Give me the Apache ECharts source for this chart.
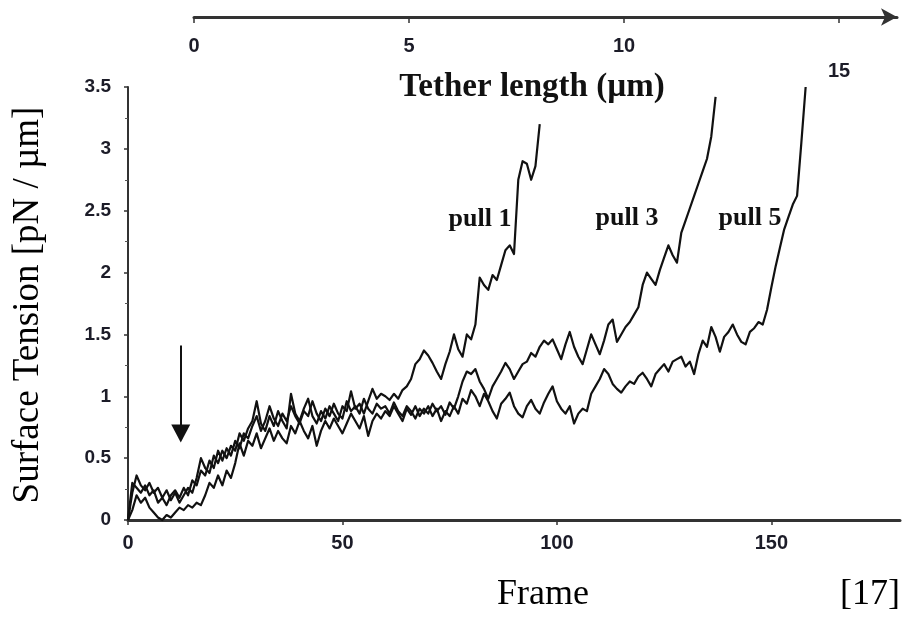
<!DOCTYPE html>
<html>
<head>
<meta charset="utf-8">
<script src="https://cdn.jsdelivr.net/npm/echarts@6/dist/echarts.min.js"></script>
<style>
  html, body { margin: 0; padding: 0; background: #fff; }
  #chart { width: 908px; height: 619px; }
</style>
</head>
<body>
<div id="chart"></div>
<script>
// Surface tension traces, one value per video frame (frame 0, 1, 2, ...)
const pull1 = [
  0.00,0.22,0.36,0.28,0.24,0.30,0.22,0.26,0.18,0.24,
  0.16,0.22,0.14,0.20,0.26,0.22,0.34,0.50,0.42,0.38,
  0.52,0.46,0.56,0.50,0.60,0.56,0.70,0.64,0.74,0.80,
  0.96,0.78,0.72,0.84,0.76,0.88,0.80,0.74,1.02,0.86,
  0.80,0.90,0.98,0.84,0.78,0.88,0.82,0.92,0.86,0.80,
  0.92,0.88,1.04,0.90,0.94,0.86,0.96,1.06,0.98,1.02,
  1.00,0.97,1.02,0.98,1.05,1.08,1.14,1.26,1.30,1.37,
  1.33,1.27,1.20,1.14,1.26,1.36,1.50,1.38,1.32,1.50,
  1.46,1.58,1.96,1.90,1.86,1.98,1.94,2.06,2.18,2.22,
  2.15,2.75,2.90,2.88,2.75,2.86,3.20
];
const pull3 = [
  0.00,0.08,0.20,0.14,0.18,0.10,0.06,0.02,0.00,0.04,
  0.02,0.06,0.10,0.08,0.12,0.10,0.14,0.12,0.20,0.30,
  0.26,0.36,0.28,0.40,0.34,0.46,0.62,0.52,0.64,0.60,
  0.70,0.58,0.66,0.74,0.64,0.72,0.66,0.62,0.76,0.70,
  0.80,0.72,0.66,0.76,0.60,0.72,0.80,0.74,0.82,0.76,
  0.70,0.78,0.86,0.80,0.74,0.84,0.68,0.80,0.86,0.82,
  0.88,0.84,0.92,0.86,0.80,0.90,0.85,0.92,0.84,0.90,
  0.86,0.94,0.88,0.92,0.85,0.95,0.90,1.00,1.12,1.20,
  1.18,1.22,1.12,1.06,0.98,1.08,1.14,1.20,1.27,1.22,
  1.14,1.20,1.26,1.28,1.35,1.32,1.40,1.45,1.42,1.46,
  1.38,1.30,1.42,1.52,1.40,1.32,1.26,1.38,1.50,1.42,
  1.34,1.45,1.58,1.62,1.44,1.50,1.56,1.60,1.66,1.72,
  1.90,2.00,1.95,1.90,2.02,2.12,2.22,2.14,2.08,2.32,
  2.42,2.52,2.62,2.72,2.82,2.92,3.10,3.42
];
const pull5 = [
  0.00,0.30,0.26,0.22,0.28,0.20,0.24,0.14,0.18,0.12,
  0.20,0.24,0.18,0.26,0.20,0.32,0.28,0.40,0.36,0.48,
  0.42,0.56,0.48,0.58,0.52,0.64,0.58,0.70,0.66,0.76,
  0.84,0.72,0.80,0.92,0.82,0.76,0.86,0.80,0.92,0.84,
  0.78,0.88,0.84,0.96,0.86,0.80,0.90,0.84,0.94,0.86,
  0.82,0.96,0.88,0.92,0.86,0.98,0.90,0.86,0.94,0.90,
  0.92,0.86,0.95,0.88,0.84,0.92,0.88,0.82,0.90,0.86,
  0.92,0.84,0.90,0.80,0.88,0.84,0.92,0.86,0.98,0.94,
  1.05,1.00,0.92,1.02,0.96,0.88,0.82,0.94,0.98,1.03,
  0.92,0.86,0.83,0.92,0.97,0.90,0.86,0.95,1.02,1.08,
  0.96,0.90,0.86,0.92,0.78,0.86,0.90,0.88,1.02,1.08,
  1.14,1.22,1.18,1.10,1.06,1.03,1.08,1.12,1.10,1.16,
  1.19,1.14,1.08,1.18,1.22,1.26,1.20,1.28,1.30,1.32,
  1.24,1.28,1.18,1.34,1.45,1.40,1.56,1.48,1.36,1.48,
  1.52,1.58,1.50,1.44,1.42,1.52,1.55,1.60,1.58,1.70,
  1.88,2.05,2.20,2.35,2.45,2.55,2.62,3.05,3.50
];
const seriesNames = ['pull 1', 'pull 3', 'pull 5'];

// Axis tick values
const frameTicks = [0, 50, 100, 150];
const tetherTicks = [0, 5, 10, 15];

// Arrow marking the start of the pull (frame, from, to)
const arrowFrame = 12.3;
const arrowFrom = 1.41;
const arrowTo = 0.70;

const INK = '#111';
const LABEL = '#1c1c28';
const numFont = "'Liberation Sans', Arial, sans-serif";
const serif = "'Liberation Serif', 'Times New Roman', serif";

const toPoints = arr => arr.map((v, i) => [i, v]);

const chart = echarts.init(document.getElementById('chart'), null, { renderer: 'canvas' });

const lineSeries = (name, arr) => ({
  name,
  type: 'line',
  xAxisIndex: 0,
  yAxisIndex: 0,
  data: toPoints(arr),
  showSymbol: false,
  symbol: 'none',
  clip: false,
  smooth: false,
  lineStyle: { color: INK, width: 2.2, join: 'round' },
  emphasis: { disabled: true },
  silent: true
});

const s5 = lineSeries(seriesNames[2], pull5);
s5.markLine = {
  silent: true,
  symbol: ['none', 'triangle'],
  symbolSize: [19, 18],
  label: { show: false },
  lineStyle: { color: INK, width: 2, type: 'solid' },
  emphasis: { disabled: true },
  data: [[{ coord: [arrowFrame, arrowFrom] }, { coord: [arrowFrame, arrowTo] }]]
};

const option = {
  backgroundColor: '#fff',
  animation: false,
  grid: [
    { left: 128, right: 8, top: 87, bottom: 99, outerBoundsMode: 'none', containLabel: false },
    { left: 194, right: 11, top: 16, height: 1, outerBoundsMode: 'none', containLabel: false }
  ],
  xAxis: [
    {
      type: 'value', gridIndex: 0, min: 0, max: 180, interval: 50,
      axisLine: { show: true, lineStyle: { color: '#333', width: 3 } },
      axisTick: { show: true, length: 5, lineStyle: { color: '#333', width: 1.5 }, customValues: frameTicks },
      axisLabel: {
        show: true, margin: 13, color: LABEL, fontFamily: numFont, fontWeight: 'bold', fontSize: 20,
        customValues: frameTicks
      },
      splitLine: { show: false }
    },
    {
      type: 'value', gridIndex: 1, min: 0, max: 703 / 43, position: 'bottom',
      axisLine: {
        show: true, symbol: ['none', 'arrow'], symbolSize: [13, 16],
        lineStyle: { color: '#333', width: 3 }
      },
      axisTick: { show: true, length: 6, lineStyle: { color: '#333', width: 1.5 }, customValues: tetherTicks },
      axisLabel: {
        show: true, margin: 19, color: LABEL, fontFamily: numFont, fontWeight: 'bold', fontSize: 20,
        customValues: tetherTicks,
        formatter: v => (v === 15 ? '{low|15}' : String(v)),
        rich: { low: { padding: [25, 0, 0, 0], fontFamily: numFont, fontWeight: 'bold', fontSize: 20, color: LABEL } }
      },
      splitLine: { show: false }
    }
  ],
  yAxis: [
    {
      type: 'value', gridIndex: 0, min: 0, max: 3.5, interval: 0.5,
      axisLine: { show: true, lineStyle: { color: '#333', width: 2 } },
      axisTick: { show: true, length: 4, lineStyle: { color: '#333', width: 1.5 } },
      minorTick: { show: true, splitNumber: 2, length: 3, lineStyle: { color: '#555', width: 1 } },
      axisLabel: {
        show: true, margin: 17, color: LABEL, fontFamily: numFont, fontWeight: 'bold', fontSize: 19,
        formatter: v => String(v)
      },
      splitLine: { show: false }
    },
    { type: 'value', gridIndex: 1, show: false, min: 0, max: 1 }
  ],
  series: [
    lineSeries(seriesNames[0], pull1),
    lineSeries(seriesNames[1], pull3),
    s5
  ],
  graphic: [
    {
      type: 'text', x: 532, y: 87, silent: true,
      style: { text: 'Tether length (\u00b5m)', fill: INK, font: "bold 33px " + serif, align: 'center', verticalAlign: 'middle' }
    },
    {
      type: 'text', x: 28, y: 305, rotation: Math.PI / 2, silent: true,
      style: { text: 'Surface Tension [pN / \u00b5m]', fill: '#000', font: "37px " + serif, align: 'center', verticalAlign: 'middle' }
    },
    {
      type: 'text', x: 543, y: 595, silent: true,
      style: { text: 'Frame', fill: '#000', font: "36px " + serif, align: 'center', verticalAlign: 'middle' }
    },
    {
      type: 'text', x: 870, y: 595, silent: true,
      style: { text: '[17]', fill: '#000', font: "36px " + serif, align: 'center', verticalAlign: 'middle' }
    },
    {
      type: 'text', x: 480, y: 219, silent: true,
      style: { text: seriesNames[0], fill: INK, font: "bold 26px " + serif, align: 'center', verticalAlign: 'middle' }
    },
    {
      type: 'text', x: 627, y: 218, silent: true,
      style: { text: seriesNames[1], fill: INK, font: "bold 26px " + serif, align: 'center', verticalAlign: 'middle' }
    },
    {
      type: 'text', x: 750, y: 218, silent: true,
      style: { text: seriesNames[2], fill: INK, font: "bold 26px " + serif, align: 'center', verticalAlign: 'middle' }
    }
  ]
};

chart.setOption(option);
</script>
</body>
</html>
